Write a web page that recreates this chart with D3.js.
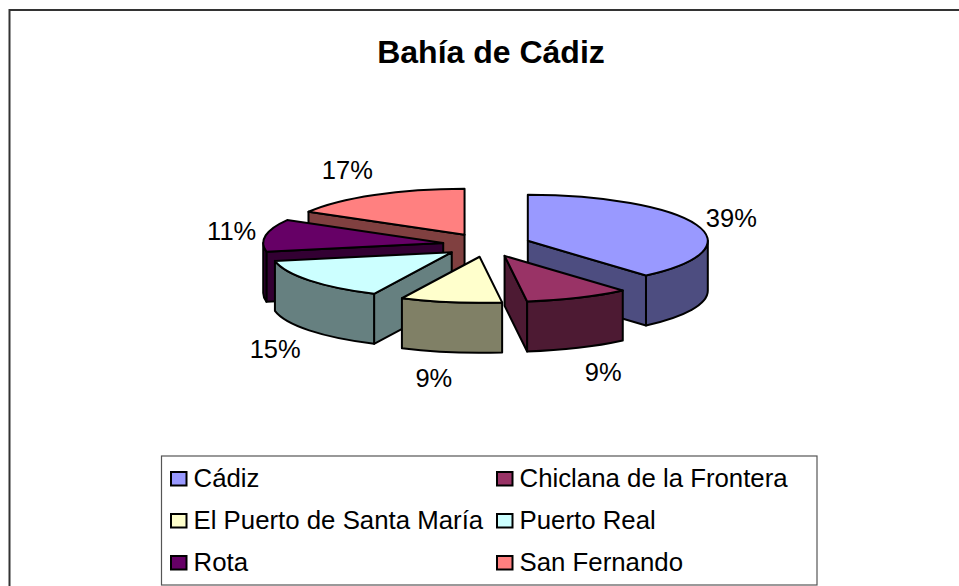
<!DOCTYPE html>
<html lang="es">

<head>
    <meta charset="UTF-8">
    <title>Bahía de Cádiz</title>
    <style>
    body {
        margin: 0;
        background: #ffffff;
        overflow: hidden;
    }

    svg {
        display: block;
        font-family: "Liberation Sans", Arial, sans-serif;
    }
    </style>
</head>

<body>
    <svg width="959" height="586"></svg>
    <script src="https://d3js.org/d3.v7.min.js"></script>
    <script>
    // Data
    const title = "Bahía de Cádiz";
    const categories = ["Cádiz", "Chiclana de la Frontera", "El Puerto de Santa María", "Puerto Real", "Rota", "San Fernando"];
    const shares = [38.6, 9.4, 9.1, 14.9, 11.3, 16.7];
    const topColors = ["#9999ff", "#993366", "#ffffcc", "#ccffff", "#660066", "#ff8080"];
    const sideColors = ["#4d4d80", "#4d1a33", "#808066", "#668080", "#330033", "#804040"];

    // Layout
    const cx = 486.6, cy = 245, rx = 180, ry = 46, depth = 50, explodeX = 44, explodeY = 11.9;
    const labelNudge = [[35, 2], [25, 33], [-17, 35], [-34, 28], [-34, 5], [-27, -16]];

    const svg = d3.select("svg");

    // Frame runs off the right and bottom of the window
    svg.append("path")
        .attr("d", "M9.5,586V10H959")
        .attr("fill", "none")
        .attr("stroke", "#333")
        .attr("stroke-width", 2);

    svg.append("text")
        .attr("x", 491)
        .attr("y", 62.5)
        .attr("text-anchor", "middle")
        .attr("font-size", 32)
        .attr("font-weight", "bold")
        .text(title);

    // Unit circle -> flattened ellipse
    const x = d3.scaleLinear().domain([-1, 1]).range([-rx, rx]);
    const y = d3.scaleLinear().domain([-1, 1]).range([ry, -ry]);
    const pie = d3.pie().sort(null).value(d => d.value);
    const total = d3.sum(shares);

    const slices = pie(shares.map((value, i) => ({ value, i }))).map(d => {
        const mid = (d.startAngle + d.endAngle) / 2;
        return {
            i: d.data.i,
            a0: d.startAngle,
            a1: d.endAngle,
            mid,
            ax: cx + explodeX * Math.sin(mid),
            ay: cy - explodeY * Math.cos(mid)
        };
    });

    const rim = (s, a) => [s.ax + x(Math.sin(a)), s.ay + y(Math.cos(a))];

    function arcTo(s, a, sweep, large, dy) {
        const p = rim(s, a);
        return `A${rx},${ry} 0 ${large} ${sweep} ${p[0]},${p[1] + dy}`;
    }

    function facePath(s, a) {
        const p = rim(s, a);
        return `M${s.ax},${s.ay}L${p[0]},${p[1]}L${p[0]},${p[1] + depth}L${s.ax},${s.ay + depth}Z`;
    }

    function wallPath(s) {
        // Only the front half of the rim shows
        const from = Math.max(s.a0, Math.PI / 2);
        const to = Math.min(s.a1, Math.PI * 3 / 2);
        if (to <= from) return null;
        const p = rim(s, from);
        const q = rim(s, to);
        return `M${p[0]},${p[1]}` + arcTo(s, to, 1, 0, 0) +
            `L${q[0]},${q[1] + depth}` + arcTo(s, from, 0, 0, depth) + "Z";
    }

    function topPath(s) {
        const p = rim(s, s.a0);
        const large = s.a1 - s.a0 > Math.PI ? 1 : 0;
        return `M${s.ax},${s.ay}L${p[0]},${p[1]}` + arcTo(s, s.a1, 1, large, 0) + "Z";
    }

    // Back slices first so the front ones cover them
    const order = slices.slice().sort((a, b) => d3.descending(Math.cos(a.mid), Math.cos(b.mid)));

    const g = svg.append("g")
        .attr("stroke", "#000")
        .attr("stroke-width", 2)
        .attr("stroke-linejoin", "round");

    order.forEach(s => {
        const paths = [];
        if (Math.sin(s.a0) < -1e-6) paths.push(facePath(s, s.a0));
        if (Math.sin(s.a1) > 1e-6) paths.push(facePath(s, s.a1));
        const wall = wallPath(s);
        if (wall) paths.push(wall);
        const slice = g.append("g");
        slice.selectAll("path").data(paths).join("path")
            .attr("d", d => d)
            .attr("fill", sideColors[s.i]);
        slice.append("path")
            .attr("d", topPath(s))
            .attr("fill", topColors[s.i]);
    });

    // Percent labels
    svg.append("g")
        .attr("font-size", 25.5)
        .attr("text-anchor", "middle")
        .selectAll("text")
        .data(slices)
        .join("text")
        .attr("x", s => rim(s, s.mid)[0] + labelNudge[s.i][0])
        .attr("y", s => rim(s, s.mid)[1] + (Math.cos(s.mid) < 0 ? depth : 0) + labelNudge[s.i][1])
        .text(s => d3.format(".0f")(shares[s.i] / total * 100) + "%");

    // Legend
    svg.append("rect")
        .attr("x", 161.5)
        .attr("y", 456)
        .attr("width", 655.5)
        .attr("height", 129)
        .attr("fill", "#fff")
        .attr("stroke", "#555")
        .attr("stroke-width", 1.2);

    const colX = d3.scaleOrdinal().domain([0, 1]).range([170, 496]);
    const rowY = d3.scalePoint().domain([0, 1, 2]).range([478.5, 562.5]);

    const item = svg.append("g")
        .selectAll("g")
        .data(categories)
        .join("g")
        .attr("transform", (d, i) => `translate(${colX(i % 2)},${rowY(Math.floor(i / 2))})`);

    item.append("rect")
        .attr("x", 1)
        .attr("y", -6.5)
        .attr("width", 15.5)
        .attr("height", 13.5)
        .attr("fill", (d, i) => topColors[i])
        .attr("stroke", "#000")
        .attr("stroke-width", 2);

    item.append("text")
        .attr("x", 23.5)
        .attr("y", 8)
        .attr("font-size", 25.8)
        .text(d => d);
    </script>
</body>

</html>
